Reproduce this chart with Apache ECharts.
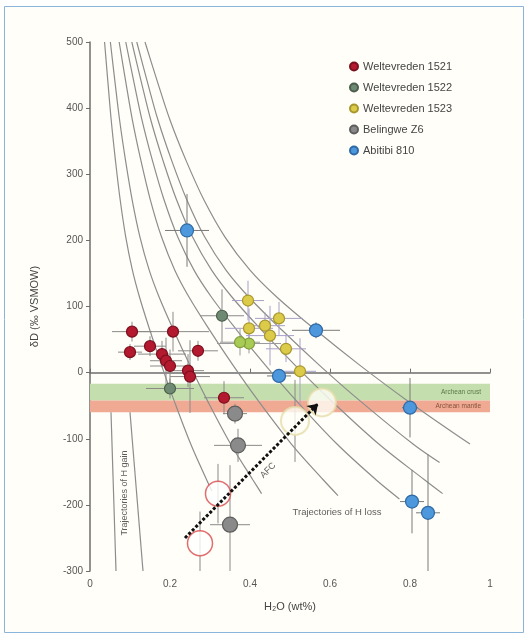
<!DOCTYPE html>
<html><head><meta charset="utf-8">
<script src="https://cdn.jsdelivr.net/npm/echarts@6/dist/echarts.min.js"></script>
<style>html,body{margin:0;padding:0;background:#fff}#c{width:528px;height:639px}</style>
</head><body><div id="c"></div>
<script>
// axis ticks
const xTicks = [0, 0.2, 0.4, 0.6, 0.8, 1];
const yTicks = [-300, -200, -100, 0, 100, 200, 300, 400, 500];

// samples: [H2O wt%, dD permil, err H2O, err dD]
const w1521 = [[0.105,62,0.05,15],[0.2075,62,0.09,30],[0.10,31,0.03,12],[0.15,40,0.04,15],[0.18,28,0.06,20],[0.19,18,0.04,35],[0.20,10,0.05,25],[0.245,3,0.04,25],[0.25,-6,0.05,55],[0.27,33,0.05,15],[0.335,-38,0.05,25]];
const w1522 = [[0.33,86,0.055,40],[0.20,-24,0.06,15]];
const w1522light = [[0.3975,44,0.08,15],[0.375,46,0.05,20]];
const w1523 = [[0.395,109,0.04,30],[0.4725,82,0.06,25],[0.3975,67,0.06,30],[0.4375,71,0.05,20],[0.45,56,0.06,45],[0.49,36,0.05,20],[0.525,2,0.04,50]];
const belingwe = [[0.3625,-62,0.03,15],[0.37,-110,0.06,25],[0.35,-230,0.05,90]];
const abitibi = [[0.2425,215,0.055,55],[0.565,64,0.06,12],[0.4725,-5,0.03,10],[0.80,-53,0.02,45],[0.805,-195,0.03,48],[0.845,-212,0.03,88]];

// open model circles
const openWhite = [[0.58,-45],[0.5125,-73]];
const openRed = [[0.32,-183],[0.275,-258]];
const openRedErr = [[0.32,-183,0,45],[0.275,-258,0,48],[0.5125,-73,0,62]];

// AFC arrow
const afcArrow = [[0.2375,-250],[0.57,-47]];

// trajectories of H loss
const loss1 = [[0.0364,500],[0.0444,442],[0.053,382],[0.0636,321],[0.0755,261],[0.0894,205],[0.106,155],[0.1239,114],[0.1497,64],[0.1789,11],[0.21,-42],[0.2518,-108],[0.2915,-162],[0.3048,-179]];
const loss2 = [[0.0509,500],[0.062,442],[0.074,382],[0.0888,321],[0.1055,261],[0.1249,205],[0.148,155],[0.173,114],[0.209,64],[0.2498,11],[0.2932,-42],[0.3515,-108],[0.407,-162],[0.429,-183]];
const loss3 = [[0.0729,500],[0.0888,442],[0.106,382],[0.1272,321],[0.151,261],[0.1789,205],[0.212,155],[0.2478,114],[0.2995,64],[0.3578,11],[0.42,-42],[0.5035,-108],[0.583,-162],[0.62,-186]];
const loss4 = [[0.0894,500],[0.1089,442],[0.13,382],[0.156,321],[0.1853,261],[0.2194,205],[0.26,155],[0.3039,114],[0.3673,64],[0.4388,11],[0.5151,-42],[0.6175,-108],[0.715,-162],[0.7735,-191]];
const loss5 = [[0.1045,500],[0.1273,442],[0.152,382],[0.1824,321],[0.2166,261],[0.2565,205],[0.304,155],[0.3553,114],[0.4294,64],[0.513,11],[0.6023,-42],[0.722,-108],[0.836,-162],[0.8816,-183]];
const loss6 = [[0.1169,500],[0.1424,442],[0.17,382],[0.204,321],[0.2423,261],[0.2869,205],[0.34,155],[0.3974,114],[0.4803,64],[0.5738,11],[0.6736,-42],[0.8075,-108],[0.874,-136]];
const loss7 = [[0.1375,500],[0.1675,442],[0.2,382],[0.24,321],[0.285,261],[0.3375,205],[0.4,155],[0.4675,114],[0.565,64],[0.675,11],[0.7925,-42],[0.95,-108]];
const lossCurves = [loss1, loss2, loss3, loss4, loss5, loss6, loss7];

// trajectories of H gain
const gain1 = [[0.0525,-60],[0.065,-300]];
const gain2 = [[0.10,-60],[0.1325,-300]];

// reservoirs (dD bands)
const crustBand = [-17, -42];
const mantleBand = [-42, -60];

const chart = echarts.init(document.getElementById('c'), null, {renderer:'canvas'});

function errSeries(data, color){
  return {
    type:'custom', coordinateSystem:'cartesian2d', data:data, silent:true, z:3, clip:true,
    encode:{x:0, y:1},
    renderItem:function(params, api){
      const x=api.value(0), y=api.value(1), ex=api.value(2), ey=api.value(3);
      const st={stroke:color, lineWidth:1};
      const ch=[];
      if (ex>0){ const a=api.coord([x-ex,y]), b=api.coord([x+ex,y]);
        ch.push({type:'line', shape:{x1:a[0],y1:a[1],x2:b[0],y2:b[1]}, style:st}); }
      if (ey>0){ const c=api.coord([x,y-ey]), d=api.coord([x,y+ey]);
        ch.push({type:'line', shape:{x1:c[0],y1:c[1],x2:d[0],y2:d[1]}, style:st}); }
      return {type:'group', children:ch};
    }
  };
}
function pts(arr){ return arr.map(p=>[p[0],p[1]]); }
function scat(name, arr, fill, border, size){
  return {name:name, type:'scatter', data:pts(arr), symbol:'circle', symbolSize:size, z:5,
    itemStyle:{color:fill, borderColor:border, borderWidth:1.2, opacity:1}};
}

const series = [];
// bands
series.push({type:'line', data:[], z:0, silent:true,
  markArea:{silent:true, data:[
    [{xAxis:0, yAxis:crustBand[0], itemStyle:{color:'#c4dfad'}},{xAxis:1, yAxis:crustBand[1]}],
    [{xAxis:0, yAxis:mantleBand[0], itemStyle:{color:'#f0aa94'}},{xAxis:1, yAxis:mantleBand[1]}]
  ]}});
// loss curves
lossCurves.forEach(c=>series.push({type:'line', data:c, smooth:0.35, symbol:'none', silent:true, z:2,
  lineStyle:{color:'#8d8d8d', width:1.2}}));
[gain1, gain2].forEach(c=>series.push({type:'line', data:c, symbol:'none', silent:true, z:2,
  lineStyle:{color:'#8d8d8d', width:1.2}}));
// error bars
series.push(errSeries(w1521, '#8a8a8a'));
series.push(errSeries(w1522, '#8a8a8a'));
series.push(errSeries(w1522light, '#9a9a9a'));
series.push(errSeries(w1523, '#a9a0c8'));
series.push(errSeries(belingwe, '#8a8a8a'));
series.push(errSeries(abitibi, '#7a7a7a'));
series.push(errSeries(openRedErr, '#8a8a8a'));
// open circles
series.push({type:'scatter', data:openWhite, symbolSize:28, z:4, silent:true,
  itemStyle:{color:'#fffef6', borderColor:'#e6dcaa', borderWidth:2}});
series.push({type:'scatter', data:openRed, symbolSize:25, z:4, silent:true,
  itemStyle:{color:'#ffffff', borderColor:'#d9484a', borderWidth:1.5}});
// sample points
series.push(scat('Weltevreden 1521', w1521, '#b3192f', '#7c0f1e', 11));
series.push(scat('Weltevreden 1522', w1522, '#6f8a72', '#4b5f4d', 11));
series.push(scat('Weltevreden 1522', w1522light, '#a8cb55', '#7f9e3a', 11));
series.push(scat('Weltevreden 1523', w1523, '#dccb48', '#a8972e', 11));
series.push(scat('Belingwe Z6', belingwe, '#8a8a8a', '#5e5e5e', 15));
series.push(scat('Abitibi 810', abitibi, '#4d98dc', '#2f6aa6', 13));
// AFC arrow
series.push({type:'lines', coordinateSystem:'cartesian2d', z:6, silent:true,
  data:[{coords:afcArrow}], symbol:['none','arrow'], symbolSize:10,
  lineStyle:{color:'#111', width:3, type:[3,2], opacity:1}});
// annotations
function txt(x, y, text, opts){
  return Object.assign({value:[x,y], label:Object.assign({show:true, formatter:text, color:'#333', fontSize:9, fontFamily:'Liberation Sans, Arial'}, opts||{})});
}
series.push({type:'scatter', symbolSize:0, silent:true, z:7, data:[
  txt(0.6175,-212,'Trajectories of H loss',{fontSize:9.5, position:'inside'}),
  txt(0.445,-148,'AFC',{rotate:45, fontSize:9, position:'inside'}),
  txt(0.0875,-182,'Trajectories of H gain',{rotate:90, fontSize:9, position:'inside'}),
  txt(0.99,-29,'Archean crust',{fontSize:6.5, color:'#3d5a2a', position:'left'}),
  txt(0.99,-51,'Archean mantle',{fontSize:6.5, color:'#6b3a22', position:'left'})
]});

chart.setOption({
  backgroundColor:'#ffffff',
  animation:false,
  graphic:[{type:'rect', z:-10, shape:{x:4.5, y:6.5, width:519, height:626},
    style:{fill:'#fffef8', stroke:'#8ab4da', lineWidth:1}}],
  grid:{left:90, right:38, top:42, bottom:68},
  legend:{orient:'vertical', left:344, top:56, itemWidth:8, itemHeight:8, itemGap:10,
    icon:'circle', textStyle:{fontSize:11, color:'#444', fontFamily:'Liberation Sans, Arial'},
    data:['Weltevreden 1521','Weltevreden 1522','Weltevreden 1523','Belingwe Z6','Abitibi 810']},
  xAxis:{type:'value', min:xTicks[0], max:xTicks[xTicks.length-1], interval:0.2,
    name:'H\u2082O (wt%)', nameLocation:'middle', nameGap:30,
    nameTextStyle:{fontSize:11, color:'#444', fontFamily:'Liberation Sans, Arial'},
    axisLine:{show:true, lineStyle:{color:'#6e6e6e', width:1.5}},
    axisTick:{show:true, inside:true, length:4, lineStyle:{color:'#6e6e6e'}},
    axisLabel:{fontSize:10, color:'#555', margin:8, formatter:v=>String(+v.toFixed(1))},
    splitLine:{show:false}},
  yAxis:{type:'value', min:yTicks[0], max:yTicks[yTicks.length-1], interval:100,
    name:'\u03b4D (\u2030 VSMOW)', nameLocation:'middle', nameGap:50,
    nameTextStyle:{fontSize:11, color:'#444', fontFamily:'Liberation Sans, Arial'},
    axisLine:{show:true, lineStyle:{color:'#6e6e6e', width:1.5}},
    axisTick:{show:true, inside:false, length:4, lineStyle:{color:'#6e6e6e'}},
    axisLabel:{fontSize:10, color:'#555', margin:7},
    splitLine:{show:false}},
  series:series
});
</script></body></html>
